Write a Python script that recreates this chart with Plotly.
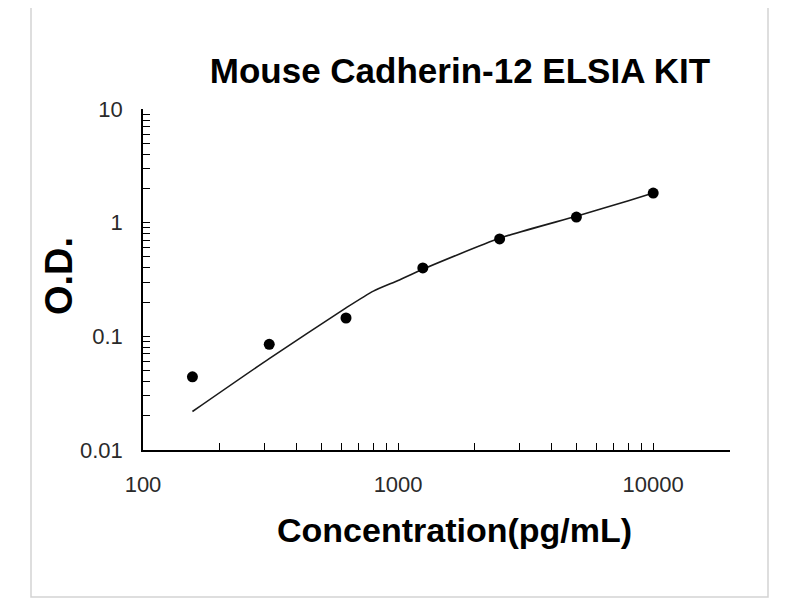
import plotly.graph_objects as go

# ---- data ----
conc = [156.25, 312.5, 625, 1250, 2500, 5000, 10000]
od = [0.044, 0.085, 0.145, 0.40, 0.72, 1.12, 1.82]

curve_conc = [156.25, 312.5, 625, 800, 1000, 1250, 2500, 5000, 8000, 10000]
curve_od = [0.0218, 0.0637, 0.178, 0.25, 0.31, 0.39, 0.73, 1.14, 1.56, 1.82]

x_major = [100, 1000, 10000]
x_major_text = ["100", "1000", "10000"]
x_minor = [200, 300, 400, 500, 600, 700, 800, 900,
           2000, 3000, 4000, 5000, 6000, 7000, 8000, 9000, 20000]
y_major = [0.01, 0.1, 1, 10]
y_major_text = ["0.01", "0.1", "1", "10"]
y_minor = [0.02, 0.03, 0.04, 0.05, 0.06, 0.07, 0.08, 0.09,
           0.2, 0.3, 0.4, 0.5, 0.6, 0.7, 0.8, 0.9,
           2, 3, 4, 5, 6, 7, 8, 9]

title_text = "Mouse Cadherin-12 ELSIA KIT"
x_title = "Concentration(pg/mL)"
y_title = "O.D."

# ---- layout geometry (page body has an 8px margin) ----
OFF = 8
W, H = 800 - OFF, 600 - OFF
L, T = 143 - OFF, 109 - OFF
R = W - (730 - OFF)
B = H - (450 - OFF)
pw, ph = W - L - R, H - T - B


def px(xs):
    return (xs - OFF - L) / pw


def py(ys):
    return (H - B - (ys - OFF)) / ph


FONT = "Liberation Sans, Arial, sans-serif"

fig = go.Figure()
fig.add_trace(go.Scatter(
    x=curve_conc, y=curve_od, mode="lines",
    line=dict(color="#1a1a1a", width=1.6, shape="spline", smoothing=0.6),
    showlegend=False, hoverinfo="skip"))
fig.add_trace(go.Scatter(
    x=conc, y=od, mode="markers",
    marker=dict(color="#000000", size=11),
    showlegend=False))

tick_font = dict(family=FONT, size=22, color="#2a2a2a")
axis_common = dict(
    type="log", showline=True, linecolor="#000000", linewidth=1.6,
    showgrid=False, zeroline=False, ticks="inside", ticklen=7,
    tickwidth=1.3, tickcolor="#000000", tickfont=tick_font,
    tickmode="array", mirror=False,
)
minor_common = dict(tickmode="array", ticks="inside", ticklen=7, tickwidth=1.3,
                    tickcolor="#000000", showgrid=False)
fig.update_xaxes(**axis_common, range=[2, 4.30103],
                 tickvals=x_major, ticktext=x_major_text, ticklabelstandoff=14,
                 minor=dict(**minor_common, tickvals=x_minor))
fig.update_yaxes(**axis_common, range=[-2, 1],
                 tickvals=y_major, ticktext=y_major_text, ticklabelstandoff=14,
                 minor=dict(**minor_common, tickvals=y_minor))

fig.update_layout(
    width=W, height=H,
    margin=dict(l=L, r=R, t=T, b=B, autoexpand=False),
    paper_bgcolor="#ffffff", plot_bgcolor="#ffffff",
    title=dict(text="<b>" + title_text + "</b>", xref="paper", x=px(460),
               xanchor="center", yref="container", y=1 - (71 - OFF) / H,
               yanchor="middle",
               font=dict(family=FONT, size=35, color="#000000")),
    annotations=[
        dict(text="<b>" + x_title + "</b>", xref="paper", yref="paper",
             x=px(454), y=py(530), xanchor="center", yanchor="middle",
             showarrow=False,
             font=dict(family=FONT, size=34, color="#000000")),
        dict(text="<b>" + y_title + "</b>", xref="paper", yref="paper",
             x=px(59), y=py(276), xanchor="center", yanchor="middle",
             textangle=-90, showarrow=False,
             font=dict(family=FONT, size=38, color="#000000")),
    ],
    shapes=[dict(type="rect", xref="paper", yref="paper",
                 x0=px(31), x1=px(768), y0=py(597), y1=py(2),
                 line=dict(color="#d3d3d3", width=1.5), fillcolor="rgba(0,0,0,0)",
                 layer="below")],
)

fig.write_html("out.html")
